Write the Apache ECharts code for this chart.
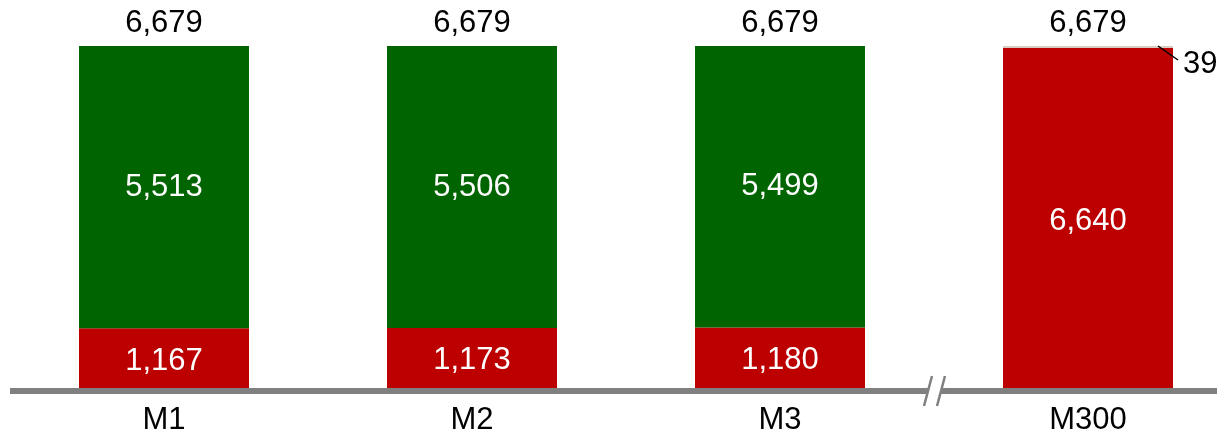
<!DOCTYPE html>
<html>
<head>
<meta charset="utf-8">
<script src="https://cdn.jsdelivr.net/npm/echarts@6/dist/echarts.min.js"></script>
<style>
html,body{margin:0;padding:0;background:#fff;}
#chart{width:1217px;height:436px;}
</style>
</head>
<body>
<div id="chart"></div>
<script>
var categories = ['M1', 'M2', 'M3', 'M300'];
var redValues = [1167, 1173, 1180, 6640];
var greenValues = [5513, 5506, 5499, 39];
var totals = [6679, 6679, 6679, 6679];

var FONT = 'Liberation Sans, Arial, sans-serif';
function fmt(v) { return Number(v).toLocaleString('en-US'); }

var greenData = greenValues.map(function (v, i) {
  if (i === 3) {
    return {
      value: v,
      itemStyle: { color: '#d9cdc2' },
      label: { show: true, position: 'right', color: '#000', distance: 10 }
    };
  }
  return v;
});

var chart = echarts.init(document.getElementById('chart'), null, { renderer: 'canvas' });
chart.setOption({
  animation: false,
  textStyle: { fontFamily: FONT },
  grid: { left: 10, width: 1232, top: 46, bottom: 45, containLabel: false, outerBoundsMode: 'none' },
  xAxis: {
    type: 'category',
    data: categories,
    axisLine: { onZero: false, lineStyle: { color: '#808080', width: 6, cap: 'butt' } },
    axisTick: { show: false },
    axisLabel: { fontSize: 31, color: '#000', margin: 14, fontFamily: FONT }
  },
  yAxis: {
    type: 'value', min: -59, max: 6679, show: false,
    splitLine: { show: false }
  },
  series: [
    {
      name: 'red', type: 'bar', stack: 'a', barWidth: 170,
      data: redValues,
      itemStyle: { color: '#bc0000' },
      label: { show: true, position: 'inside', color: '#fff', fontSize: 31, fontFamily: FONT, offset: [0, 3],
        formatter: function (p) { return fmt(p.value); } }
    },
    {
      name: 'green', type: 'bar', stack: 'a', barWidth: 170,
      data: greenData,
      itemStyle: { color: '#006400' },
      label: { show: true, position: 'inside', color: '#fff', fontSize: 31, fontFamily: FONT, offset: [0, 3],
        formatter: function (p) { return fmt(p.value); } },
      labelLayout: function (params) {
        if (params.dataIndex === 3) {
          return { dx: 0, dy: 17 };
        }
        return {};
      }
    },
    {
      name: 'total', type: 'bar', barWidth: 170, barGap: '-100%',
      data: totals,
      itemStyle: { color: 'rgba(0,0,0,0)' },
      label: { show: true, position: 'top', color: '#000', fontSize: 31, distance: 7, fontFamily: FONT,
        formatter: function (p) { return fmt(p.value); } },
      z: 1
    }
  ],
  graphic: [
    { type: 'rect', shape: { x: 928, y: 385, width: 13, height: 12 }, style: { fill: '#fff' }, z: 100 },
    { type: 'line', shape: { x1: 932, y1: 376, x2: 924, y2: 406 }, style: { stroke: '#808080', lineWidth: 2.5 }, z: 101 },
    { type: 'line', shape: { x1: 945, y1: 376, x2: 937, y2: 406 }, style: { stroke: '#808080', lineWidth: 2.5 }, z: 101 }
  ]
});

// leader line for the small "39" segment, positioned via the chart's own scales
var topPt = chart.convertToPixel({ seriesIndex: 1 }, [categories[3], totals[3]]);
chart.setOption({
  graphic: [
    {}, {}, {},
    { type: 'line', shape: { x1: topPt[0] + 70, y1: topPt[1], x2: topPt[0] + 90, y2: topPt[1] + 14 },
      style: { stroke: '#000', lineWidth: 1.5 }, z: 101 }
  ]
});
</script>
</body>
</html>
